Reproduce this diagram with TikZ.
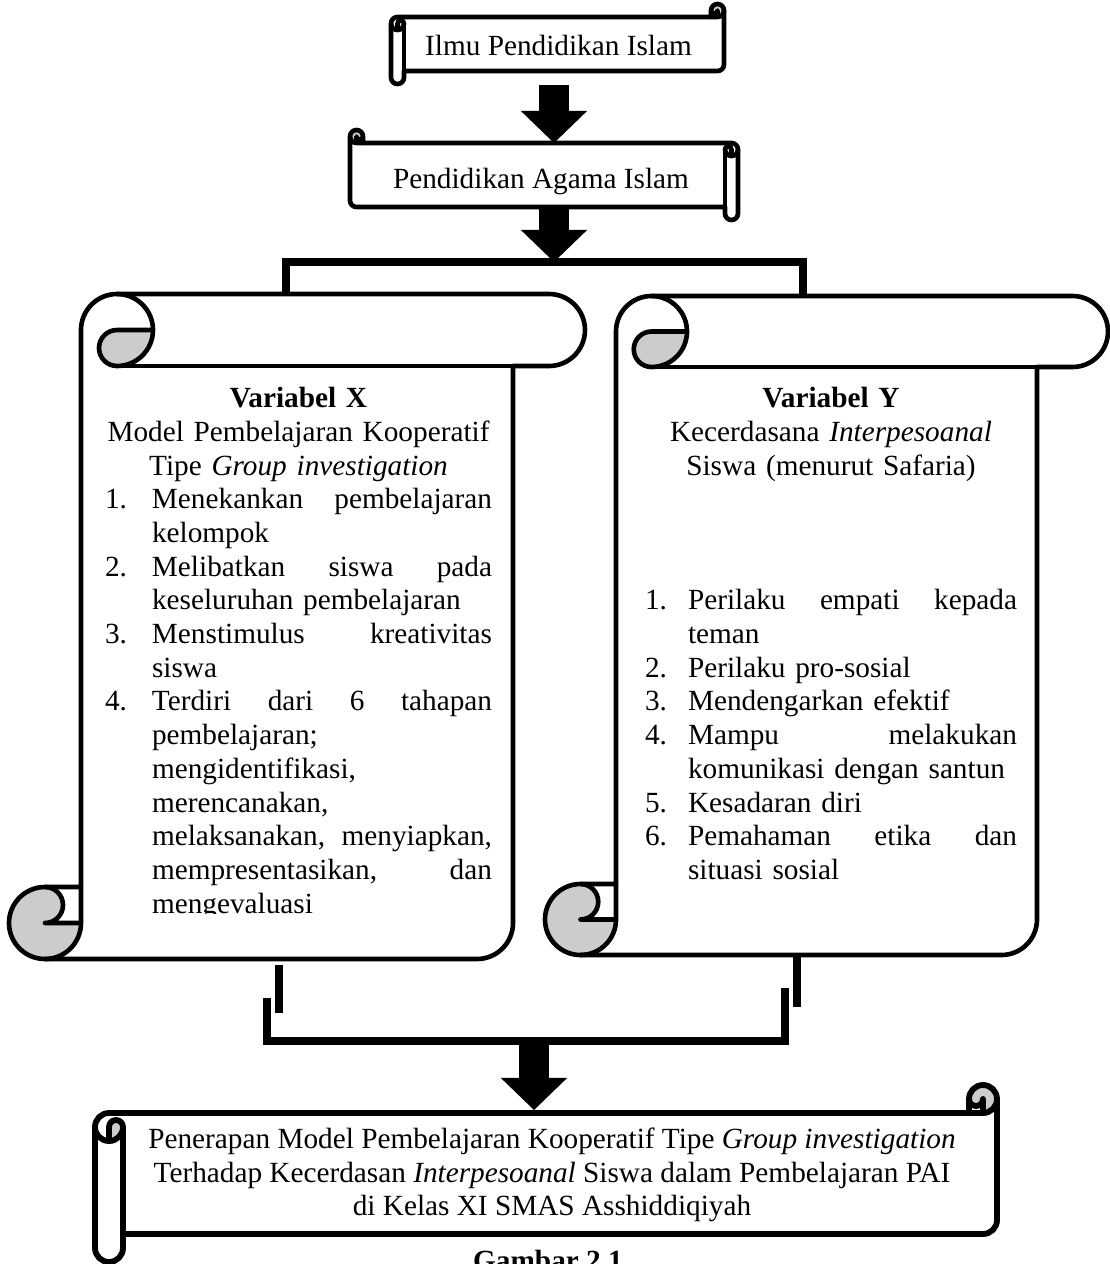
\documentclass[tikz,border=0pt]{standalone}
\usepackage{fontspec}
\setmainfont{Liberation Serif}
\usetikzlibrary{arrows.meta}
\tikzset{
    % grey inside of the rolled ends
    curl/.style={fill=black!20},
    scrollline/.style={draw=black,line join=round},
    txt/.style={font=\fontsize{12}{13.82}\selectfont,inner sep=0pt},
    bracket/.style={draw=black,line width=2.9pt},
    blockarrow/.style={line width=12.5pt,-{Triangle[length=13.2pt,width=27.3pt,line width=0pt]}},
}
\newlength{\numw}
\newlength{\txtw}
\newcommand{\jitem}[2]{\makebox[\numw][l]{#1}\makebox[\txtw][s]{\spaceskip=0pt\xspaceskip=0pt\relax #2}}
\newcommand{\litem}[2]{\makebox[\numw][l]{#1}\makebox[\txtw][l]{#2}}
% scroll with roll on top, drawn at the origin: width, height, roll size
\newcommand{\scrollshape}[3]{%
    \pgfmathsetmacro{\scW}{#1}%
    \pgfmathsetmacro{\scH}{#2}%
    \pgfmathsetmacro{\scC}{#3}%
    \pgfmathsetmacro{\scR}{#3/2}%
    \pgfmathsetmacro{\scQ}{#3/4}%
    \fill[white] (\scC,\scH-\scC) -- (\scC,\scR)
        arc[start angle=180,end angle=270,radius=\scR] -- (\scW-\scR,0)
        arc[start angle=-90,end angle=90,radius=\scR] -- (\scW-\scC,\scC)
        -- (\scW-\scC,\scH-\scR) arc[start angle=0,end angle=90,radius=\scR]
        -- (\scR,\scH) arc[start angle=90,end angle=270,radius=\scR] -- cycle;
    \fill[curl] (2*\scC,\scR) arc[start angle=0,end angle=90,radius=\scR]
        arc[start angle=90,end angle=270,radius=\scQ] -- cycle;
    \fill[curl] (\scC,\scH-\scR) arc[start angle=0,end angle=270,radius=\scR]
        arc[start angle=270,end angle=450,radius=\scQ] -- cycle;
    \draw[scrollline] (\scC,\scH-\scC) -- (\scC,\scR)
        arc[start angle=180,end angle=270,radius=\scR] -- (\scW-\scR,0)
        arc[start angle=-90,end angle=90,radius=\scR] -- (\scW-\scC,\scC)
        -- (\scW-\scC,\scH-\scR) arc[start angle=0,end angle=90,radius=\scR]
        -- (\scR,\scH) arc[start angle=90,end angle=270,radius=\scR] -- cycle;
    \draw[scrollline] (1.5*\scC,0) arc[start angle=-90,end angle=90,radius=\scR]
        arc[start angle=90,end angle=270,radius=\scQ] -- (2*\scC,\scR);
    \draw[scrollline] (\scW-\scC,\scC) -- (1.5*\scC,\scC);
    \draw[scrollline] (\scR,\scH-\scC) arc[start angle=-90,end angle=90,radius=\scQ]
        -- (\scC,\scH-\scR);
    \draw[scrollline] (\scR,\scH) arc[start angle=90,end angle=0,radius=\scR]
        -- (\scC,\scH-\scC);
}
\begin{document}
\begin{tikzpicture}[x=0.41pt,y=-0.41pt,line width=1.9pt]
    \useasboundingbox (0,0) rectangle (1110,1264);
    % scrolls
    \begin{scope}[shift={(391,4)},cm={0,-1,-1,0,(0,0)}]
        \scrollshape{80}{333}{13}
    \end{scope}
    \begin{scope}[shift={(738,130)},xscale=-1,cm={0,-1,-1,0,(0,0)}]
        \scrollshape{90}{388}{13}
    \end{scope}
    \begin{scope}[shift={(9,294)}]
        \scrollshape{576}{665}{72}
    \end{scope}
    \begin{scope}[shift={(545,296)}]
        \scrollshape{563}{659}{71}
    \end{scope}
    \begin{scope}[shift={(95,1085)},cm={0,-1,-1,0,(0,0)},line width=2.4pt]
        \scrollshape{177}{902}{28}
    \end{scope}

    \node[txt,anchor=base] (ilmu) at (558.5,55) {Ilmu Pendidikan Islam};
    \node[txt,anchor=base] (pai) at (541,188) {Pendidikan Agama Islam};
    \begin{scope}
        \clip (85,370) rectangle (510,913);
        \node[txt,anchor=north,text width=158.67pt,align=center] (varx) at (298.5,385) {%
            \setlength{\numw}{19.27pt}\setlength{\txtw}{139.4pt}%
            \textbf{Variabel X}\\
            Model Pembelajaran Kooperatif\\
            Tipe \textit{Group investigation}\\
            \jitem{1.}{Menekankan pembelajaran}\\
            \litem{}{kelompok}\\
            \jitem{2.}{Melibatkan siswa pada}\\
            \litem{}{keseluruhan pembelajaran}\\
            \jitem{3.}{Menstimulus kreativitas}\\
            \litem{}{siswa}\\
            \jitem{4.}{Terdiri dari 6 tahapan}\\
            \litem{}{pembelajaran;}\\
            \litem{}{mengidentifikasi,}\\
            \litem{}{merencanakan,}\\
            \jitem{}{melaksanakan, menyiapkan,}\\
            \jitem{}{mempresentasikan, dan}\\
            \litem{}{mengevaluasi}};
    \end{scope}
    \node[txt,anchor=north,text width=152.52pt,align=center] (vary) at (831,385) {%
        \setlength{\numw}{17.63pt}\setlength{\txtw}{134.89pt}%
        \textbf{Variabel Y}\\
        Kecerdasana \textit{Interpesoanal}\\
        Siswa (menurut Safaria)\\
        \mbox{}\\
        \mbox{}\\
        \mbox{}\\
        \jitem{1.}{Perilaku empati kepada}\\
        \litem{}{teman}\\
        \litem{2.}{Perilaku pro-sosial}\\
        \litem{3.}{Mendengarkan efektif}\\
        \jitem{4.}{Mampu melakukan}\\
        \litem{}{komunikasi dengan santun}\\
        \litem{5.}{Kesadaran diri}\\
        \jitem{6.}{Pemahaman etika dan}\\
        \litem{}{situasi sosial}};
    \node[txt,align=center] (judul) at (552,1175) {Penerapan Model Pembelajaran Kooperatif Tipe \textit{Group investigation}\\
        Terhadap Kecerdasan \textit{Interpesoanal} Siswa dalam Pembelajaran PAI\\
        di Kelas XI SMAS Asshiddiqiyah};
    \node[txt,font=\fontsize{12}{13.82}\selectfont\bfseries,anchor=base] (gambar) at (548,1270) {Gambar 2.1};

    % connectors
    \coordinate (ilmu-out) at (554,85);
    \coordinate (pai-in) at (554,143);
    \coordinate (pai-out) at (554,209);
    \coordinate (fork) at (554,262);
    \coordinate (varx-in) at (286,294);
    \coordinate (vary-in) at (803,296);
    \coordinate (varx-out) at (279,965);
    \coordinate (varx-end) at (279,1013);
    \coordinate (vary-out) at (797,957);
    \coordinate (vary-end) at (797,1007);
    \coordinate (varx-leg) at (267,998);
    \coordinate (vary-leg) at (785,988);
    \coordinate (join) at (534,1041);
    \coordinate (judul-in) at (534,1110);
    \draw[blockarrow] (ilmu-out) -- (pai-in);
    \draw[blockarrow] (pai-out) -- (fork);
    \draw[bracket] (varx-in) |- (fork) -| (vary-in);
    \draw[bracket] (varx-out) -- (varx-end);
    \draw[bracket] (vary-out) -- (vary-end);
    \draw[bracket] (varx-leg) |- (join) -| (vary-leg);
    \draw[blockarrow] (join) -- (judul-in);
\end{tikzpicture}
\end{document}
